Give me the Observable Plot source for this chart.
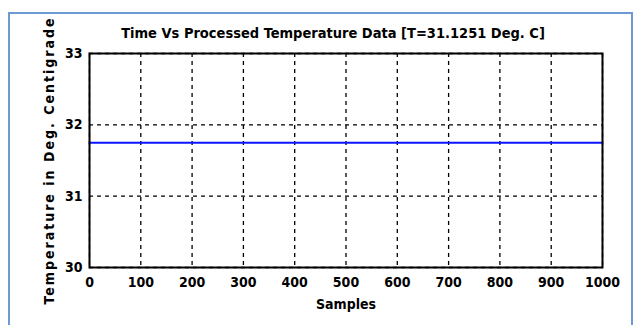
<!DOCTYPE html>
<html>
<head>
<meta charset="utf-8">
<script src="https://cdn.jsdelivr.net/npm/d3@7"></script>
<script src="https://cdn.jsdelivr.net/npm/@observablehq/plot@0.6"></script>
<style>
  html, body { margin: 0; padding: 0; background: #fff; }
  #wrap { position: relative; width: 638px; height: 325px; overflow: hidden; }
  #panel { position: absolute; left: 8px; top: 12px; width: 625px; height: 330px; border: 2px solid #6b9bd2; box-sizing: border-box; }
  #chart { position: absolute; left: 0; top: 0; }
</style>
</head>
<body>
<div id="wrap"><div id="panel"></div><div id="chart"></div></div>
<script>
const xTicks = [0, 100, 200, 300, 400, 500, 600, 700, 800, 900, 1000];
const yTicks = [30, 31, 32, 33];
const samples = [0, 1000];
const temperature = [31.75, 31.75];
const titleText = "Time Vs Processed Temperature Data [T=31.1251 Deg. C]";
const xLabel = "Samples";
const yLabel = "Temperature in Deg. Centigrade";

const data = samples.map((s, i) => ({s, t: temperature[i]}));
const font = "'DejaVu Sans Condensed', 'Liberation Sans Narrow', sans-serif";

const chart = Plot.plot({
  width: 638,
  height: 325,
  marginLeft: 89,
  marginRight: 36,
  marginTop: 53,
  marginBottom: 58,
  style: {fontFamily: font, background: "transparent", color: "black"},
  x: {domain: [0, 1000], ticks: xTicks},
  y: {domain: [30, 33], ticks: yTicks},
  marks: [
    Plot.gridX(xTicks, {stroke: "black", strokeOpacity: 1, strokeWidth: 1.3, strokeDasharray: "4,4"}),
    Plot.gridY(yTicks, {stroke: "black", strokeOpacity: 1, strokeWidth: 1.3, strokeDasharray: "4,4"}),
    Plot.line(data, {x: "s", y: "t", stroke: "#0a14ff", strokeWidth: 2}),
    Plot.frame({stroke: "black", strokeWidth: 2}),
    Plot.axisX({ticks: xTicks, tickSize: 0, tickPadding: 10, fontSize: 14, fontWeight: "bold", label: null, tickFormat: d => String(d)}),
    Plot.axisY({ticks: yTicks, tickSize: 0, tickPadding: 7, fontSize: 14, fontWeight: "bold", label: null, tickFormat: d => String(d)}),
    Plot.text([titleText], {frameAnchor: "top", dx: -13, dy: -26, fontSize: 14.5, fontWeight: "bold", fill: "black", text: d => d}),
    Plot.text([xLabel], {frameAnchor: "bottom", dy: 41, fontSize: 14, fontWeight: "bold", fill: "black", text: d => d}),
    Plot.text([yLabel], {frameAnchor: "left", textAnchor: "middle", dx: -40, rotate: -90, fontSize: 14, fontWeight: "bold", fill: "black", text: d => d})
  ]
});
chart.querySelectorAll("text").forEach(t => { if (t.textContent === yLabel) t.style.letterSpacing = "2px"; });
document.getElementById("chart").appendChild(chart);
</script>
</body>
</html>
